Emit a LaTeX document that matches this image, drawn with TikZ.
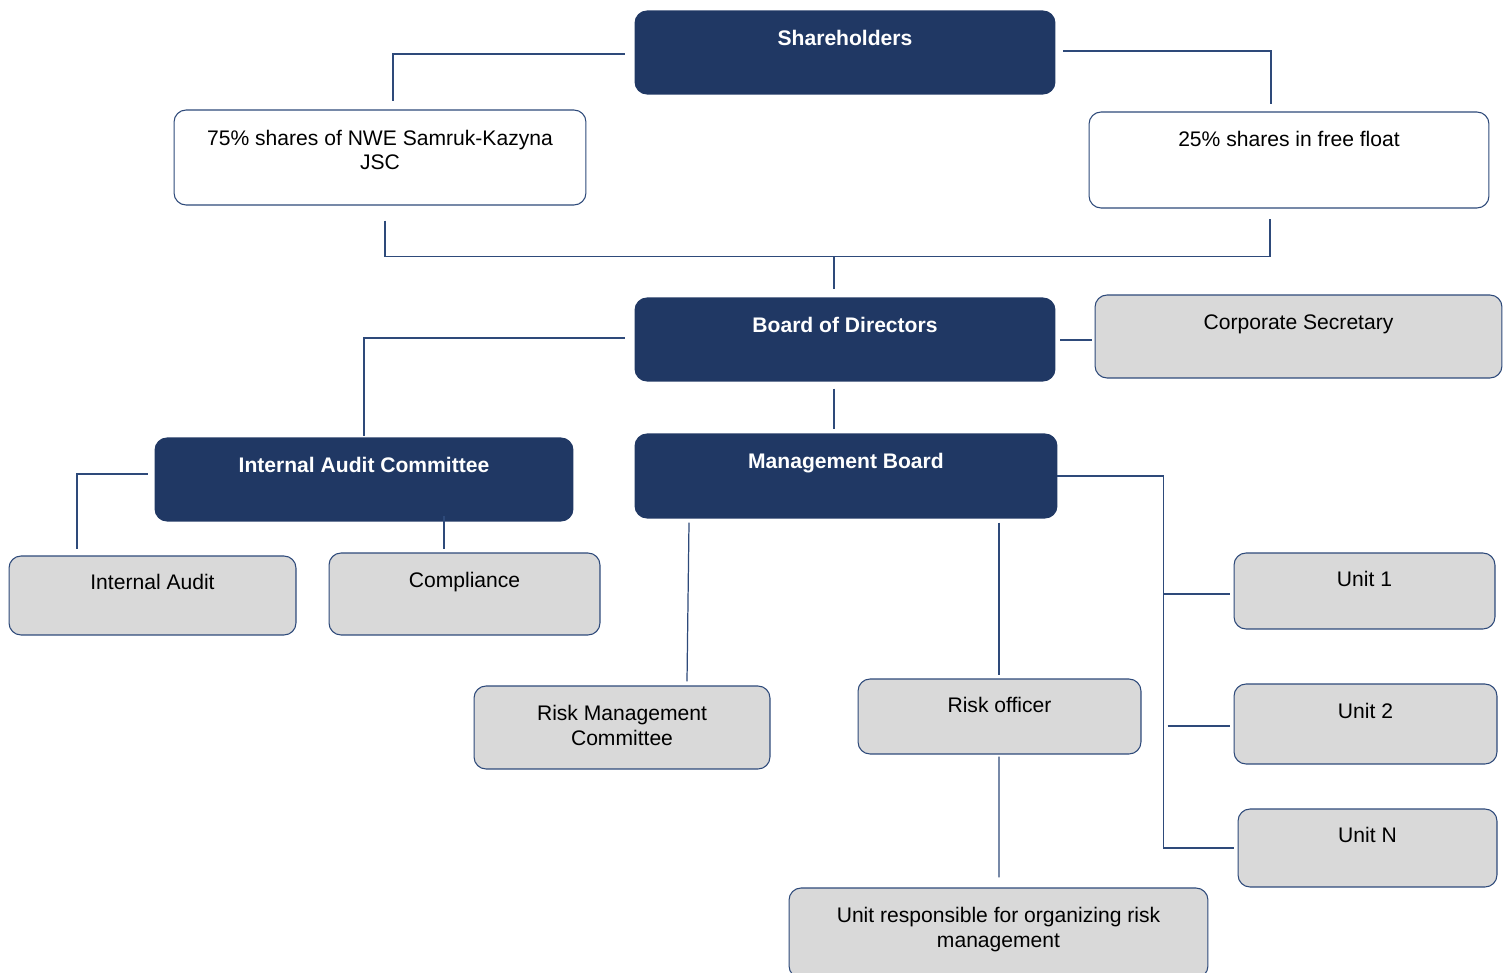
\documentclass[tikz,border=0pt]{standalone}
\usepackage{fontspec}
\setmainfont{Liberation Sans}
\usetikzlibrary{calc}
\definecolor{navy}{RGB}{32,56,100}
\definecolor{edge}{RGB}{46,74,122}
\definecolor{boxgray}{RGB}{217,217,217}
\tikzset{
  box/.style={draw=edge,line width=0.6pt,rounded corners=0.24cm,align=center,
    font=\fontsize{12}{14}\selectfont,text height=9pt,text depth=16.8pt},
  darkbox/.style={box,fill=navy,draw=navy,text=white,font=\fontsize{12}{14}\selectfont\bfseries},
  whitebox/.style={box,fill=white},
  graybox/.style={box,fill=boxgray},
  twolines/.style={text height=23.6pt,text depth=#1},
  conn/.style={draw=edge,line width=0.7pt},
}
\begin{document}
\begin{tikzpicture}[x=0.02cm,y=-0.02cm]
      \useasboundingbox (0,0) rectangle (1509,973);
      % owners
      \node[darkbox,minimum width=8.4cm,minimum height=1.66cm] (sh) at (845,52.5) {Shareholders};
      \node[whitebox,minimum width=8.24cm,minimum height=1.9cm,twolines=9.5pt] (s75) at (380,157.5) {75\% shares of NWE Samruk-Kazyna\\JSC};
      \node[whitebox,minimum width=8cm,minimum height=1.92cm,text depth=24.2pt] (s25) at (1289,160) {25\% shares in free float};
      % board level
      \node[darkbox,minimum width=8.4cm,minimum height=1.66cm] (bod) at (845,339.5) {Board of Directors};
      \node[graybox,minimum width=8.14cm,minimum height=1.66cm] (cs) at (1298.5,336.5) {Corporate Secretary};
      \node[darkbox,minimum width=8.36cm,minimum height=1.66cm] (iac) at (364,479.5) {Internal Audit Committee};
      \node[darkbox,minimum width=8.44cm,minimum height=1.68cm,text depth=17.4pt] (mb) at (846,476) {Management Board};
      % units
      \node[graybox,minimum width=5.74cm,minimum height=1.58cm,text depth=15.7pt] (ia) at (152.5,595.5) {Internal Audit};
      \node[graybox,minimum width=5.42cm,minimum height=1.64cm,text depth=16.3pt] (comp) at (464.5,594) {Compliance};
      \node[graybox,minimum width=5.92cm,minimum height=1.66cm,twolines=3.2pt] (rmc) at (622,727.5) {Risk Management\\Committee};
      \node[graybox,minimum width=5.66cm,minimum height=1.5cm,text depth=13.4pt] (ro) at (999.5,716.5) {Risk officer};
      \node[graybox,minimum width=8.38cm,minimum height=1.8cm,twolines=7.2pt] (ur) at (998.5,933) {Unit responsible for organizing risk\\management};
      \node[graybox,minimum width=5.22cm,minimum height=1.52cm,text depth=14pt] (u1) at (1364.5,591) {Unit 1};
      \node[graybox,minimum width=5.26cm,minimum height=1.6cm,text depth=15.1pt] (u2) at (1365.5,724) {Unit 2};
      \node[graybox,minimum width=5.18cm,minimum height=1.56cm,text depth=15.1pt] (un) at (1367.5,848) {Unit N};
      % connectors
      \draw[conn] ($(sh.west)+(-10,1.5)$) -| ($(s75.north)+(13,-8)$);
      \draw[conn] ($(sh.east)+(8,-1.5)$) -| ($(s25.north)+(-18,-7)$);
      \draw[conn] ($(s75.south)+(5,15)$) |- ($(s25.south)+(-19,48)$) -- ($(s25.south)+(-19,10)$);
      \draw[conn] ($(bod.north)+(-11,-40)$) -- ($(bod.north)+(-11,-8)$);
      \draw[conn] ($(bod.west)+(-10,-1.5)$) -| ($(iac.north)+(0,-1)$);
      \draw[conn] ($(bod.east)+(5,0.5)$) -- ($(cs.west)+(-3,3.5)$);
      \draw[conn] ($(bod.south)+(-11,7)$) -- ($(mb.north)+(-12,-4)$);
      \draw[conn] ($(iac.west)+(-7,-5.5)$) -| ($(ia.north)+(-75.5,-6)$);
      \draw[conn] ($(iac.south)+(80,-6)$) -- ($(comp.north)+(-20.5,-3)$);
      \draw[conn] ($(mb.south)+(-157,4)$) -- ($(rmc.north)+(65,-4)$);
      \draw[conn] ($(mb.south)+(153,4)$) -- ($(ro.north)+(-0.5,-3)$);
      \draw[conn] ($(ro.south)+(-0.5,2)$) -- ($(ur.north)+(0.5,-10)$);
      \draw[conn] (mb.east) -| ($(un.west)+(-74,0)$) -- ($(un.west)+(-4,0)$);
      \draw[conn] ($(u1.west)+(-70,3)$) -- ($(u1.west)+(-4,3)$);
      \draw[conn] ($(u2.west)+(-66,2)$) -- ($(u2.west)+(-4,2)$);
\end{tikzpicture}
\end{document}
